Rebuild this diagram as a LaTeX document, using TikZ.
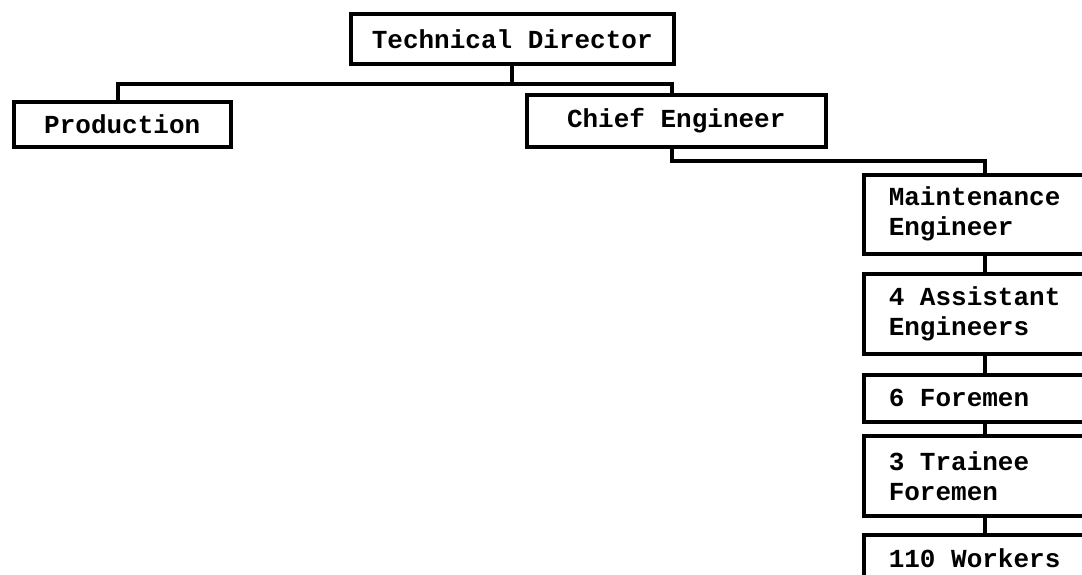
\documentclass[tikz,border=0pt]{standalone}
\usepackage{fontspec}
\setmonofont{Liberation Mono}
\newcommand{\mysp}{\hspace*{0.6em}}
\begin{document}
\begin{tikzpicture}[x=1pt,y=-1pt,
  box/.style={draw, line width=3.5pt, inner sep=0pt, anchor=north west,
    font=\ttfamily\bfseries\fontsize{26}{30}\selectfont},
  rbox/.style={box, inner xsep=25pt, text width=192pt, align=left, minimum width=242pt},
  conn/.style={line width=4pt}]
\clip (0,0) rectangle (1082,574);
\fill[white] (0,0) rectangle (1082,574);
\node[box, minimum width=323pt, minimum height=50pt] (td) at (349,12) {Technical Director};
\node[box, minimum width=217pt, minimum height=45pt] (prod) at (12,100) {Production};
\node[box, minimum width=299pt, minimum height=52pt] (chief) at (525,93) {Chief Engineer};
\node[rbox, minimum height=79pt] (maint) at (862,173) {Maintenance\\Engineer};
\node[rbox, minimum height=80pt] (asst) at (862,272) {4\mysp Assistant\\Engineers};
\node[rbox, minimum height=47pt] (fore) at (862,373) {6\mysp Foremen};
\node[rbox, minimum height=80pt] (train) at (862,434) {3\mysp Trainee\\Foremen};
\node[rbox, minimum height=47pt] (work) at (862,533) {110\mysp Workers};
\coordinate (tdj) at ([yshift=-18pt]td.south);
\coordinate (pc) at ([xshift=-4pt]prod.north);
\coordinate (cc) at ([xshift=-4pt]chief.north);
\coordinate (cs) at ([xshift=-4pt]chief.south);
\draw[conn] (td.south) -- (tdj);
\draw[conn] (pc) |- (tdj) -| (cc);
\coordinate (cej) at ([yshift=-12pt]cs);
\draw[conn] (cs) -- (cej) -| (maint.north);
\draw[conn] (maint.south) -- (asst.north);
\draw[conn] (asst.south) -- (fore.north);
\draw[conn] (fore.south) -- (train.north);
\draw[conn] (train.south) -- (work.north);
\end{tikzpicture}
\end{document}
